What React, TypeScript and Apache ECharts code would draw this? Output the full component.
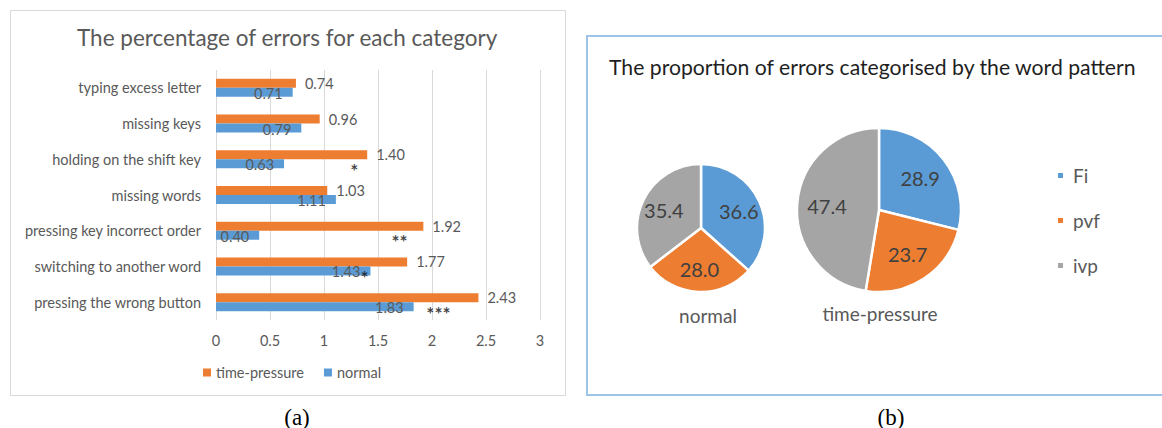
import React, { useEffect, useRef } from "react";
import * as echarts from "echarts";

// ---- data ----
const categories = [
  "typing excess letter",
  "missing keys",
  "holding on the shift key",
  "missing words",
  "pressing key incorrect order",
  "switching to another word",
  "pressing the wrong button",
];
const timePressure = [0.74, 0.96, 1.4, 1.03, 1.92, 1.77, 2.43];
const normal = [0.71, 0.79, 0.63, 1.11, 0.4, 1.43, 1.83];
const barLegend = ["time-pressure", "normal"];

const sigCategory = [
  "holding on the shift key",
  "pressing key incorrect order",
  "switching to another word",
  "pressing the wrong button",
];
const sigX = [1.28, 1.7, 1.375, 2.06];
const sigStars = ["*", "**", "*", "***"];

const patterns = ["Fi", "pvf", "ivp"];
const normalShare = [36.6, 28.0, 35.4];
const pressureShare = [28.9, 23.7, 47.4];
const pieCaptions = ["normal", "time-pressure"];
const panelCaptions = ["(a)", "(b)"];

const BLUE = "#5B9BD5";
const ORANGE = "#ED7D31";
const GRAY = "#A5A5A5";
const PIE_COLORS = [BLUE, ORANGE, GRAY];
const FONT = "Lato";
const TXT = "#595959";

function pieData(values: number[], transparent: boolean) {
  return patterns.map((n, i) => ({
    name: n,
    value: values[i],
    itemStyle: { color: transparent ? "rgba(0,0,0,0)" : PIE_COLORS[i] },
  }));
}

export default function App() {
  const ref = useRef<HTMLDivElement>(null);
  useEffect(() => {
    if (!ref.current) return;
    const chart = echarts.init(ref.current, undefined, { renderer: "svg" });
    const pieBase = (name: string, center: number[], r: number, values: number[]) => ({
      type: "pie",
      name,
      center,
      radius: r,
      startAngle: 90,
      clockwise: true,
      data: pieData(values, false),
      label: { show: false },
      labelLine: { show: false },
      itemStyle: { borderColor: "#fff", borderWidth: 2.5 },
      emphasis: { disabled: true },
      silent: true,
    });
    const pieLabels = (name: string, center: number[], r: number, values: number[]) => ({
      type: "pie",
      name,
      center,
      radius: [r * 0.2, r],
      startAngle: 90,
      clockwise: true,
      data: pieData(values, true),
      label: {
        show: true,
        position: "inside",
        fontSize: 20,
        fontFamily: FONT,
        color: "#404040",
        formatter: (p: any) => Number(p.value).toFixed(1),
      },
      labelLine: { show: false },
      itemStyle: { borderWidth: 0 },
      emphasis: { disabled: true },
      silent: true,
    });
    const option: any = {
      animation: false,
      backgroundColor: "#fff",
      textStyle: { fontFamily: FONT },
      title: [
        {
          text: "The percentage of errors for each category",
          left: 77,
          top: 26,
          padding: 0,
          textStyle: { fontSize: 22.5, color: TXT, fontWeight: "normal", fontFamily: FONT },
        },
        {
          text: "The proportion of errors categorised by the word pattern",
          left: 609,
          top: 56,
          padding: 0,
          textStyle: { fontSize: 21.2, color: "#1f1f1f", fontWeight: "normal", fontFamily: FONT },
        },
      ],
      legend: [
        {
          data: barLegend,
          left: 203,
          top: 365,
          padding: 0,
          icon: "rect",
          itemWidth: 8,
          itemHeight: 8,
          itemGap: 20,
          textStyle: { fontSize: 14.5, color: TXT, fontFamily: FONT },
        },
        {
          data: patterns,
          orient: "vertical",
          left: 1056,
          top: 166,
          padding: 0,
          icon: "rect",
          itemWidth: 7,
          itemHeight: 7,
          itemGap: 26,
          textStyle: { fontSize: 19, color: TXT, fontFamily: FONT, padding: [0, 0, 0, 4] },
        },
      ],
      grid: { left: 216, top: 70, width: 324, height: 250 },
      xAxis: {
        type: "value",
        min: 0,
        max: 3,
        interval: 0.5,
        axisLine: { show: false },
        axisTick: { show: false },
        splitLine: { show: true, lineStyle: { color: "#d9d9d9", width: 1 } },
        axisLabel: { color: TXT, fontSize: 14.5, fontFamily: FONT, margin: 13 },
      },
      yAxis: {
        type: "category",
        data: categories,
        inverse: true,
        axisLine: { show: false },
        axisTick: { show: false },
        axisLabel: { color: TXT, fontSize: 14.5, fontFamily: FONT, margin: 15 },
      },
      series: [
        {
          name: barLegend[0],
          type: "bar",
          data: timePressure,
          barWidth: 9,
          barGap: "0%",
          itemStyle: { color: ORANGE },
          label: {
            show: true,
            position: "right",
            distance: 9,
            color: TXT,
            fontSize: 14.5,
            fontFamily: FONT,
            formatter: (p: any) => Number(p.value).toFixed(2),
          },
          silent: true,
        },
        {
          name: barLegend[1],
          type: "bar",
          data: normal,
          barWidth: 9,
          barGap: "0%",
          itemStyle: { color: BLUE },
          label: {
            show: true,
            position: "insideRight",
            distance: 10,
            offset: [0, 1],
            color: TXT,
            fontSize: 14.5,
            fontFamily: FONT,
            formatter: (p: any) => Number(p.value).toFixed(2),
          },
          silent: true,
        },
        {
          name: "significance",
          type: "scatter",
          data: sigX.map((x, i) => [x, sigCategory[i]]),
          symbolSize: 1,
          itemStyle: { color: "rgba(0,0,0,0)" },
          silent: true,
          label: {
            show: true,
            position: "inside",
            offset: [0, 11],
            fontSize: 19,
            fontWeight: "bold",
            lineHeight: 12,
            fontFamily: FONT,
            color: "#111",
            formatter: (p: any) => sigStars[p.dataIndex],
          },
        },
        pieBase("pie-normal", [701, 228], 64, normalShare),
        pieBase("pie-time-pressure", [879, 210], 82, pressureShare),
        pieLabels("pie-normal-labels", [701, 228], 64, normalShare),
        pieLabels("pie-time-pressure-labels", [879, 210], 82, pressureShare),
      ],
      graphic: [
        {
          type: "rect",
          silent: true,
          shape: { x: 10.5, y: 10.5, width: 555, height: 385 },
          style: { fill: "none", stroke: "#d9d9d9", lineWidth: 1 },
        },
        {
          type: "rect",
          silent: true,
          shape: { x: 587, y: 36, width: 620, height: 359 },
          style: { fill: "none", stroke: "#9DC3E6", lineWidth: 2 },
        },
        {
          type: "text",
          x: 708,
          y: 315,
          silent: true,
          style: { text: pieCaptions[0], fill: TXT, fontSize: 19, fontFamily: FONT, align: "center", verticalAlign: "middle" },
        },
        {
          type: "text",
          x: 880,
          y: 313,
          silent: true,
          style: { text: pieCaptions[1], fill: TXT, fontSize: 19, fontFamily: FONT, align: "center", verticalAlign: "middle" },
        },
        {
          type: "text",
          x: 297,
          y: 417,
          silent: true,
          style: { text: panelCaptions[0], fill: "#000", fontSize: 23, fontFamily: "Liberation Serif", align: "center", verticalAlign: "middle" },
        },
        {
          type: "text",
          x: 891,
          y: 417,
          silent: true,
          style: { text: panelCaptions[1], fill: "#000", fontSize: 23, fontFamily: "Liberation Serif", align: "center", verticalAlign: "middle" },
        },
      ],
    };
    chart.setOption(option);
    return () => chart.dispose();
  }, []);
  return (
    <div
      ref={ref}
      style={{ position: "fixed", left: 0, top: 0, width: 1162, height: 428, background: "#fff" }}
    />
  );
}
